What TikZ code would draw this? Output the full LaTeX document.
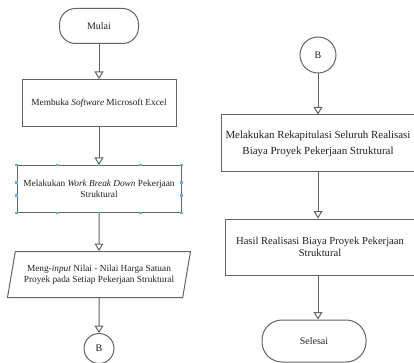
\documentclass[tikz,border=0pt]{standalone}
\usepackage{fontspec}
\setmainfont{Liberation Serif}
\usepackage{xcolor}
\usetikzlibrary{positioning, arrows.meta, shapes.geometric, calc}

\definecolor{garis}{HTML}{636363}
\definecolor{teks}{HTML}{1E1E28}
\definecolor{pegangan}{HTML}{5AB4E6}

\begin{document}
\begin{tikzpicture}[x=1pt, y=-1pt, line width=1pt,
  proses/.style={draw=garis, rectangle, align=center, text=teks, inner sep=1pt},
  terminal/.style={draw=garis, rectangle, rounded corners=16pt, align=center, text=teks,
    font=\fontsize{10}{12}\selectfont},
  konektor/.style={draw=garis, circle, inner sep=0pt, text=teks, font=\fontsize{10}{12}\selectfont},
  panah/.style={draw=garis, -{Triangle[open, length=7.5pt, width=9pt, line width=1pt]}},
  kiri/.style={font=\fontsize{9.3}{11}\selectfont},
  kanan/.style={font=\fontsize{10.9}{16}\selectfont}]
  \useasboundingbox (0,0) rectangle (414,363);

  % kolom kiri
  \node[terminal, minimum width=79pt, minimum height=35pt] (mulai) at (99,26) {Mulai};
  \node[proses, kiri, below=35pt of mulai, minimum width=154pt, minimum height=47pt] (buka)
    {Membuka \textit{Software} Microsoft Excel};
  \node[proses, kiri, below=38pt of buka, minimum width=164pt, minimum height=47pt] (wbd)
    {Melakukan \textit{Work Break Down} Pekerjaan\\Struktural};
  \node[draw=garis, trapezium, trapezium left angle=70, trapezium right angle=110,
    trapezium stretches body, kiri, text=teks, align=center, inner sep=1pt,
    below=38pt of wbd, minimum width=183pt, minimum height=46pt] (input)
    {Meng-\textit{input} Nilai - Nilai Harga Satuan\\Proyek pada Setiap Pekerjaan Struktural};
  \node[konektor, below=35pt of input, minimum size=30pt] (bkiri) {B};

  % kolom kanan
  \node[konektor, minimum size=36pt] (bkanan) at (318,55) {B};
  \node[proses, kanan, below=41pt of bkanan, minimum width=194pt, minimum height=57pt] (rekap)
    {Melakukan Rekapitulasi Seluruh Realisasi\\Biaya Proyek Pekerjaan Struktural};
  \node[proses, font=\fontsize{10.6}{12}\selectfont, below=46pt of rekap, xshift=2pt,
    minimum width=190pt, minimum height=56pt] (hasil)
    {Hasil Realisasi Biaya Proyek Pekerjaan\\Struktural};
  \node[terminal, below=44pt of hasil, xshift=-6pt, minimum width=104pt, minimum height=42pt,
    rounded corners=20pt] (selesai) {Selesai};

  \draw[panah] (mulai) -- (buka);
  \draw[panah] (buka) -- (wbd);
  \draw[panah] (wbd) -- (input);
  \draw[panah] (input) -- (bkiri);

  \draw[panah] (bkanan) -- (rekap);
  \draw[panah] (rekap.south) -- (rekap.south |- hasil.north);
  \draw[panah] (bkanan |- hasil.south) -- (bkanan |- selesai.north);

  % titik pegangan pada kotak wbd
  \foreach \t in {0,0.25,0.5,0.75,1} {
    \fill[pegangan] ($(wbd.north west)!\t!(wbd.north east)$) +(-1.4,-1.4) rectangle +(1.4,1.4);
    \fill[pegangan] ($(wbd.south west)!\t!(wbd.south east)$) +(-1.4,-1.4) rectangle +(1.4,1.4);
  }
  \foreach \t in {0.36,0.64} {
    \fill[pegangan] ($(wbd.north west)!\t!(wbd.south west)$) +(-1.4,-1.4) rectangle +(1.4,1.4);
    \fill[pegangan] ($(wbd.north east)!\t!(wbd.south east)$) +(-1.4,-1.4) rectangle +(1.4,1.4);
  }
\end{tikzpicture}
\end{document}
